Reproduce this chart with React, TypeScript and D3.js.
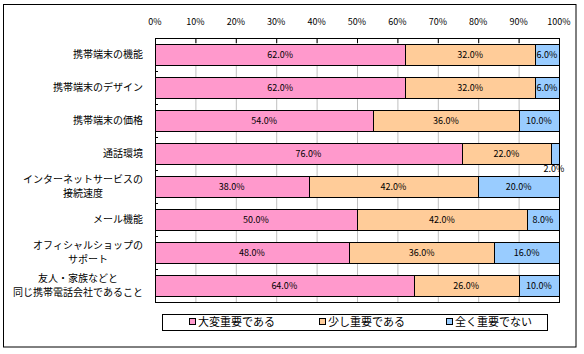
import React from "react";
import * as d3 from "d3";

// categories, top to bottom (multi-line labels split on "\n")
const categories = [
  "携帯端末の機能",
  "携帯端末のデザイン",
  "携帯端末の価格",
  "通話環境",
  "インターネットサービスの\n接続速度",
  "メール機能",
  "オフィシャルショップの\nサポート",
  "友人・家族などと\n同じ携帯電話会社であること",
];

const seriesNames = ["大変重要である", "少し重要である", "全く重要でない"];
const seriesColors = ["#FF99CC", "#FFCC99", "#99CCFF"];

const veryImportant = [62, 62, 54, 76, 38, 50, 48, 64];
const somewhatImportant = [32, 32, 36, 22, 42, 42, 36, 26];
const notImportant = [6, 6, 10, 2, 20, 8, 16, 10];

const tickValues = [0, 10, 20, 30, 40, 50, 60, 70, 80, 90, 100];

const W = 584;
const H = 354;
const plot = { left: 155, right: 559, top: 38, bottom: 302 };
const FONT = "'MS PGothic', 'Noto Sans CJK JP', sans-serif";

export default function App() {
  const series = [veryImportant, somewhatImportant, notImportant];

  const x = d3.scaleLinear().domain([0, 100]).range([plot.left, plot.right]);
  const y = d3
    .scaleBand<number>()
    .domain(d3.range(categories.length))
    .range([plot.top, plot.bottom])
    .paddingInner(0.36)
    .paddingOuter(0.18);
  const step = y.step();
  const bandTop = (i: number) => plot.top + i * ((plot.bottom - plot.top) / categories.length);

  return (
    <svg
      width={W}
      height={H}
      style={{ position: "absolute", left: 0, top: 0, background: "#fff" }}
      fontFamily={FONT}
    >
      {/* outer frame */}
      <rect x={3.5} y={4.5} width={572.5} height={342.5} fill="#fff" stroke="#000" />

      {/* gridlines */}
      {tickValues.slice(1, -1).map((t) => (
        <line key={"g" + t} x1={x(t) + 0.5} x2={x(t) + 0.5} y1={plot.top} y2={plot.bottom} stroke="#c0c0c0" />
      ))}

      {/* bars */}
      {categories.map((_, i) => {
        let acc = 0;
        const y0 = y(i)!;
        return (
          <g key={"b" + i}>
            {series.map((s, k) => {
              const v = s[i];
              const x0 = x(acc);
              acc += v;
              const x1 = x(acc);
              const small = v < 4;
              return (
                <g key={k}>
                  <rect
                    x={Math.round(x0) + 0.5}
                    y={Math.round(y0) + 0.5}
                    width={Math.round(x1) - Math.round(x0)}
                    height={Math.round(y.bandwidth())}
                    fill={seriesColors[k]}
                    stroke="#000"
                  />
                  <text
                    x={small ? x1 - 5 : (x0 + x1) / 2}
                    y={small ? y0 + y.bandwidth() + 5 : y0 + y.bandwidth() / 2}
                    dy="0.35em"
                    textAnchor="middle"
                    fontSize={9}
                  >
                    {v.toFixed(1)}%
                  </text>
                </g>
              );
            })}
          </g>
        );
      })}

      {/* plot border */}
      <rect
        x={plot.left + 0.5}
        y={plot.top + 0.5}
        width={plot.right - plot.left}
        height={plot.bottom - plot.top}
        fill="none"
        stroke="#000"
      />

      {/* top axis ticks + labels */}
      {tickValues.map((t) => (
        <g key={"t" + t}>
          <line x1={x(t) + 0.5} x2={x(t) + 0.5} y1={plot.top} y2={plot.top + 5} stroke="#000" />
          <text x={x(t)} y={22} dy="0.35em" textAnchor="middle" fontSize={9}>
            {t}%
          </text>
        </g>
      ))}

      {/* left axis ticks at category boundaries */}
      {d3.range(1, categories.length).map((i) => (
        <line
          key={"lt" + i}
          x1={plot.left}
          x2={plot.left + 3}
          y1={Math.round(bandTop(i)) + 0.5}
          y2={Math.round(bandTop(i)) + 0.5}
          stroke="#000"
        />
      ))}

      {/* category labels */}
      {categories.map((c, i) => {
        const lines = c.split("\n");
        const fs = 10;
        const maxW = d3.max(lines, (l) => l.length * fs)!;
        const cy = bandTop(i) + step / 2;
        const lh = 14.5;
        if (lines.length === 1) {
          return (
            <text key={"c" + i} x={143} y={cy} dy="0.35em" textAnchor="end" fontSize={fs}>
              {c}
            </text>
          );
        }
        return (
          <text key={"c" + i} x={143 - maxW / 2} textAnchor="middle" fontSize={fs}>
            {lines.map((l, j) => (
              <tspan key={j} x={143 - maxW / 2} y={cy + (j - (lines.length - 1) / 2) * lh} dy="0.35em">
                {l}
              </tspan>
            ))}
          </text>
        );
      })}

      {/* legend */}
      <rect x={162.5} y={314.5} width={385} height={16} fill="#fff" stroke="#000" />
      {seriesNames.map((n, k) => {
        const lx = [189, 319, 446][k];
        return (
          <g key={"l" + k}>
            <rect x={lx + 0.5} y={318.5} width={6} height={6} fill={seriesColors[k]} stroke="#000" />
            <text x={lx + 9} y={322} dy="0.35em" fontSize={11}>
              {n}
            </text>
          </g>
        );
      })}
    </svg>
  );
}
